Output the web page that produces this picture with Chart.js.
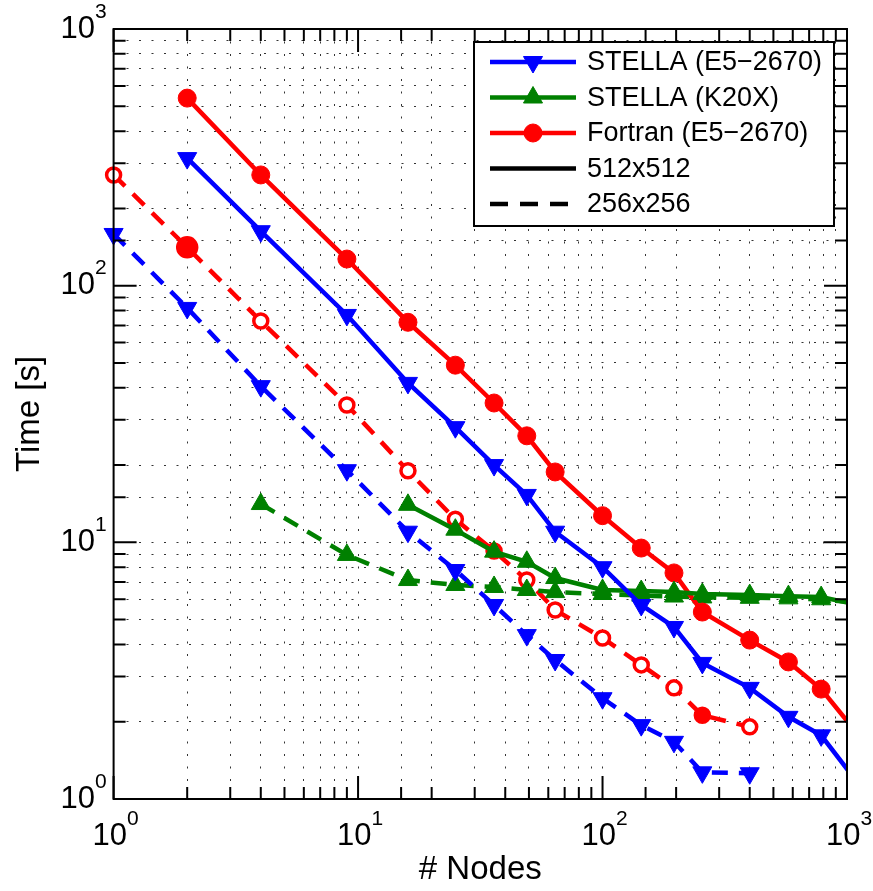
<!DOCTYPE html>
<html>
<head>
<meta charset="utf-8">
<script src="https://cdn.jsdelivr.net/npm/chart.js@4"></script>
<style>
  html, body { margin: 0; padding: 0; background: #fff; }
  #wrap { width: 873px; height: 891px; }
</style>
</head>
<body>
<div id="wrap"><canvas id="chart"></canvas></div>
<script>
Chart.defaults.font.family = "'Liberation Sans', Arial, Helvetica, sans-serif";
Chart.defaults.color = '#000';

// node counts
const nodes512 = [2, 4, 9, 16, 25, 36, 49, 64, 100, 144, 196, 256, 400, 576, 784, 1024];
const nodesGpu512 = [16, 25, 36, 49, 64, 100, 144, 196, 256, 400, 576, 784, 1024];
const nodes256 = [1, 2, 4, 9, 16, 25, 36, 49, 64, 100, 144, 196, 256, 400];
const nodesGpu256 = [4, 9, 16, 25, 36, 49, 64, 100, 144, 196, 256, 400, 576, 784, 1024];

// time [s]
const stellaCpu512 = [314, 163, 76.9, 41.8, 28.1, 20, 15.3, 11, 8.0, 5.7, 4.68, 3.39, 2.71, 2.09, 1.77, 1.27];
const stellaGpu512 = [14.0, 11.2, 9.2, 8.4, 7.26, 6.52, 6.46, 6.4, 6.29, 6.23, 6.17, 6.12, 5.8];
const fortran512 = [538, 270, 127, 72, 49, 34.9, 26, 18.8, 12.7, 9.5, 7.6, 5.35, 4.16, 3.42, 2.68, 1.96];
const stellaCpu256 = [159, 81.9, 40.6, 19.1, 11, 7.8, 5.7, 4.35, 3.48, 2.47, 1.94, 1.67, 1.27, 1.26];
const stellaGpu256 = [14.1, 8.93, 7.13, 6.82, 6.7, 6.52, 6.4, 6.29, 6.2, 6.15, 6.1, 6.08, 6.05, 6.0, 5.85];
const fortran256 = [270, 141, 72.8, 34.3, 19, 12.3, 9.25, 7.13, 5.45, 4.24, 3.33, 2.71, 2.12, 1.91];

const xTickLabels = ['10^0', '10^1', '10^2', '10^3'];
const yTickLabels = ['10^0', '10^1', '10^2', '10^3'];
const legendLabels = ['STELLA (E5\u22122670)', 'STELLA (K20X)', 'Fortran (E5\u22122670)', '512x512', '256x256'];

const BLUE = '#0000ff', GREEN = '#008000', RED = '#ff0000';
const DASH = [16, 11];

function pts(xs, ys) {
    return xs.map((x, i) => ({x: x, y: ys[i]}));
}

// no marker for the point past the right edge
const hideOut = (r) => (c) => (c.raw && c.raw.x > 1000 ? 0 : r);

function series(label, xs, ys, color, style, rot, r, dashed) {
    return {
        label: label,
        data: pts(xs, ys),
        borderColor: color,
        backgroundColor: color,
        borderWidth: 4.5,
        borderDash: dashed ? DASH : [],
        pointStyle: style,
        rotation: rot,
        pointRadius: hideOut(r),
        pointBackgroundColor: color,
        pointBorderColor: color,
        pointBorderWidth: 1,
        pointHoverRadius: hideOut(r),
        tension: 0,
        clip: {left: 20, top: 20, right: 0, bottom: 20}
    };
}

const datasets = [
    series('STELLA (E5-2670) 512', nodes512, stellaCpu512, BLUE, 'triangle', 180, 11, false),
    series('STELLA (K20X) 512', nodesGpu512, stellaGpu512, GREEN, 'triangle', 0, 11, false),
    series('Fortran (E5-2670) 512', nodes512, fortran512, RED, 'circle', 0, 9, false),
    series('STELLA (E5-2670) 256', nodes256, stellaCpu256, BLUE, 'triangle', 180, 11, true),
    series('STELLA (K20X) 256', nodesGpu256, stellaGpu256, GREEN, 'triangle', 0, 11, true),
    series('Fortran (E5-2670) 256', nodes256, fortran256, RED, 'circle', 0, 7, true)
];
// open circles for Fortran 256x256 (two look filled in the picture)
datasets[5].pointBackgroundColor = (c) => (c.dataIndex === 1 || c.dataIndex === 12 ? RED : '#fff');
datasets[5].pointRadius = (c) => (c.dataIndex === 1 ? 9.5 : 7);
datasets[5].pointBorderWidth = 3.5;

const isDecade = (v) => Math.abs(Math.log10(v) - Math.round(Math.log10(v))) < 1e-9;

function drawPow(ctx, label, x, y, align) {
    const [base, exp] = label.split('^');
    ctx.font = "31px 'Liberation Sans', Arial, sans-serif";
    const wb = ctx.measureText(base).width;
    ctx.font = "21px 'Liberation Sans', Arial, sans-serif";
    const we = ctx.measureText(exp).width;
    let left = align === 'right' ? x - wb - we : x - (wb + we) / 2;
    ctx.textBaseline = 'middle';
    ctx.textAlign = 'left';
    ctx.font = "31px 'Liberation Sans', Arial, sans-serif";
    ctx.fillText(base, left, y);
    ctx.font = "21px 'Liberation Sans', Arial, sans-serif";
    ctx.fillText(exp, left + wb, y - 17);
}

const frameAndTicks = {
    id: 'frameAndTicks',
    afterDatasetsDraw(chart) {
        const {ctx, chartArea: a, scales} = chart;
        ctx.save();
        ctx.strokeStyle = '#000';
        ctx.lineWidth = 2;
        ctx.beginPath();
        scales.x.ticks.forEach((t) => {
            const px = scales.x.getPixelForValue(t.value);
            const len = isDecade(t.value) ? 23 : 12;
            ctx.moveTo(px, a.bottom); ctx.lineTo(px, a.bottom - len);
            ctx.moveTo(px, a.top); ctx.lineTo(px, a.top + len);
        });
        scales.y.ticks.forEach((t) => {
            const py = scales.y.getPixelForValue(t.value);
            const len = isDecade(t.value) ? 23 : 12;
            ctx.moveTo(a.left, py); ctx.lineTo(a.left + len, py);
            ctx.moveTo(a.right, py); ctx.lineTo(a.right - len, py);
        });
        ctx.stroke();
        ctx.strokeRect(a.left, a.top, a.right - a.left, a.bottom - a.top);

        ctx.fillStyle = '#000';
        xTickLabels.forEach((lab, i) => {
            const px = scales.x.getPixelForValue(Math.pow(10, i));
            drawPow(ctx, lab, px + 2, a.bottom + 37, 'center');
        });
        yTickLabels.forEach((lab, i) => {
            const py = scales.y.getPixelForValue(Math.pow(10, i));
            drawPow(ctx, lab, a.left - 7, py, 'right');
        });
        ctx.restore();
    }
};

const legendBox = {
    id: 'legendBox',
    afterDraw(chart) {
        const ctx = chart.ctx;
        const box = {x: 474, y: 42, w: 360, h: 184};
        ctx.save();
        ctx.fillStyle = '#fff';
        ctx.fillRect(box.x, box.y, box.w, box.h);
        ctx.strokeStyle = '#000';
        ctx.lineWidth = 2;
        ctx.strokeRect(box.x, box.y, box.w, box.h);
        const rows = [
            {color: BLUE, style: 'triangle', rot: 180, r: 11, dash: []},
            {color: GREEN, style: 'triangle', rot: 0, r: 11, dash: []},
            {color: RED, style: 'circle', rot: 0, r: 9, dash: []},
            {color: '#000', style: false, dash: []},
            {color: '#000', style: false, dash: [18, 12]}
        ];
        rows.forEach((row, i) => {
            const y = 62 + i * 35.5;
            ctx.strokeStyle = row.color;
            ctx.fillStyle = row.color;
            ctx.lineWidth = 4.5;
            ctx.setLineDash(row.dash);
            ctx.beginPath();
            ctx.moveTo(490, y);
            ctx.lineTo(576, y);
            ctx.stroke();
            ctx.setLineDash([]);
            if (row.style) {
                ctx.lineWidth = 1;
                Chart.helpers.drawPoint(ctx, {pointStyle: row.style, rotation: row.rot, radius: row.r, borderWidth: 1}, 533, y);
            }
            ctx.fillStyle = '#000';
            ctx.font = "27px 'Liberation Sans', Arial, sans-serif";
            ctx.textBaseline = 'middle';
            ctx.textAlign = 'left';
            ctx.fillText(legendLabels[i], 587, y + 1);
        });
        ctx.restore();
    }
};

const gridOpts = {
    color: 'rgba(0,0,0,0.8)',
    lineWidth: 1,
    drawTicks: false
};

new Chart(document.getElementById('chart'), {
    type: 'line',
    data: {datasets: datasets},
    plugins: [frameAndTicks, legendBox],
    options: {
        responsive: true,
        maintainAspectRatio: false,
        animation: false,
        events: [],
        layout: {padding: {left: 0, right: 26, top: 29, bottom: 0}},
        plugins: {
            legend: {display: false},
            tooltip: {enabled: false}
        },
        scales: {
            x: {
                type: 'logarithmic',
                min: 1,
                max: 1000,
                grid: gridOpts,
                border: {display: false, dash: [2, 10.5]},
                ticks: {display: false},
                title: {
                    display: true,
                    text: '# Nodes',
                    font: {size: 33},
                    padding: {top: 51.4, bottom: 1}
                }
            },
            y: {
                type: 'logarithmic',
                min: 1,
                max: 1000,
                grid: gridOpts,
                border: {display: false, dash: [2, 10.5]},
                ticks: {display: false},
                title: {
                    display: true,
                    text: 'Time [s]',
                    font: {size: 33},
                    padding: {top: 10, bottom: 64}
                }
            }
        }
    }
});
</script>
</body>
</html>
